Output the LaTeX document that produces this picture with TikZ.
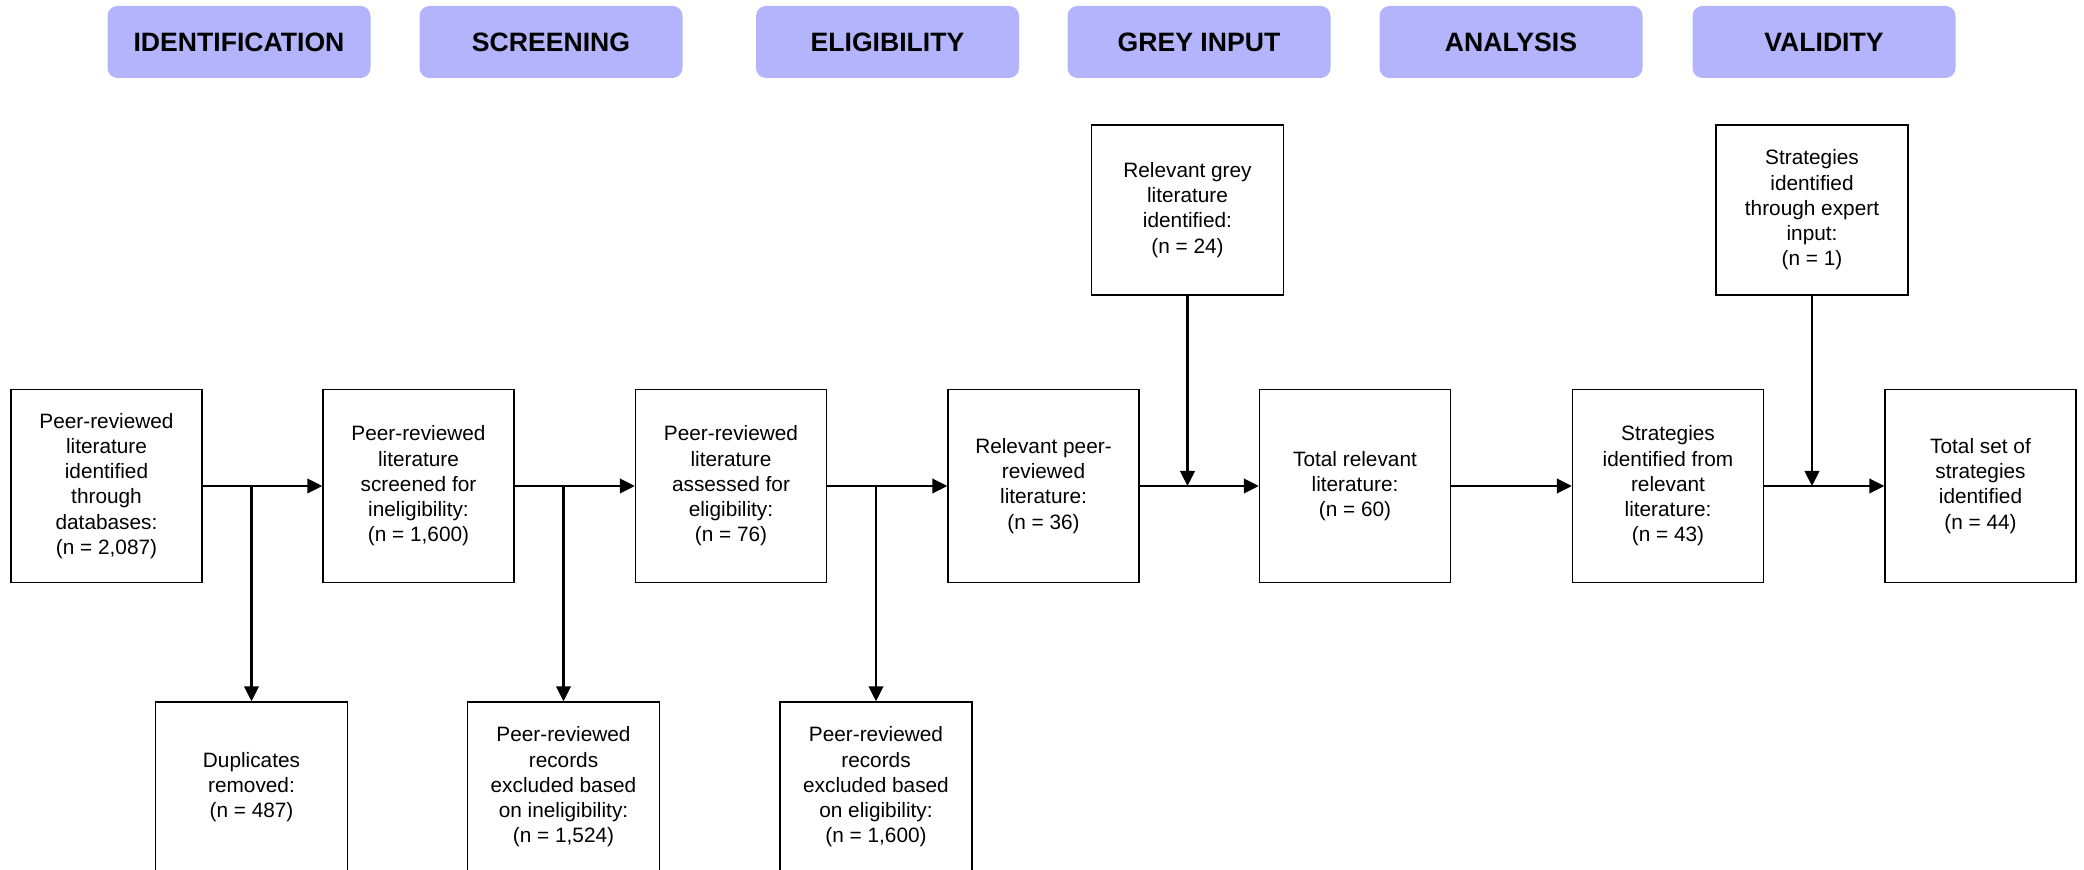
\documentclass[tikz,border=0pt]{standalone}
\usepackage{fontspec}
\setmainfont{Liberation Sans}
\usetikzlibrary{arrows.meta}
\definecolor{phase}{HTML}{B4B4FC}
\definecolor{ink}{HTML}{000000}

\begin{document}
\begin{tikzpicture}[x=.5pt,y=-.5pt,
  phasebox/.style={fill=phase,rounded corners=5pt,inner sep=0pt,minimum width=131.5pt,minimum height=36pt,font=\fontsize{13.3}{16}\selectfont\bfseries},
  stepbox/.style={draw=ink,line width=.7pt,fill=white,align=center,inner sep=0pt,minimum width=95.5pt,minimum height=96.5pt,font=\fontsize{10.4}{12.6}\selectfont},
  sidebox/.style={stepbox,minimum width=96pt,minimum height=85pt},
  link/.style={draw=ink,line width=1.1pt,-{Triangle[length=7.5pt,width=7.3pt]}}]
\useasboundingbox (0,0) rectangle (2084,870);
% phase headers
\node[phasebox] (hid) at (239,42){IDENTIFICATION};
\node[phasebox] (hsc) at (551,42){SCREENING};
\node[phasebox] (hel) at (887.5,42){ELIGIBILITY};
\node[phasebox] (hgr) at (1199,42){GREY INPUT};
\node[phasebox] (han) at (1511,42){ANALYSIS};
\node[phasebox] (hva) at (1824,42){VALIDITY};
% main flow
\node[stepbox] (db) at (106.5,486){Peer-reviewed\\literature\\identified\\through\\databases:\\(n = 2,087)};
\node[stepbox] (scr) at (418.5,486){Peer-reviewed\\literature\\screened for\\ineligibility:\\(n = 1,600)};
\node[stepbox] (ass) at (731,486){Peer-reviewed\\literature\\assessed for\\eligibility:\\(n = 76)};
\node[stepbox] (rel) at (1043.5,486){Relevant peer-\\reviewed\\literature:\\(n = 36)};
\node[stepbox] (tot) at (1355,486){Total relevant\\literature:\\(n = 60)};
\node[stepbox] (str) at (1668,486){Strategies\\identified from\\relevant\\literature:\\(n = 43)};
\node[stepbox] (fin) at (1980.5,486){Total set of\\strategies\\identified\\(n = 44)};
% inputs from above
\node[sidebox] (grey) at (1187.5,210){Relevant grey\\literature\\identified:\\(n = 24)};
\node[sidebox] (expert) at (1812,210){Strategies\\identified\\through expert\\input:\\(n = 1)};
% exclusions below
\node[sidebox] (dup) at (251.5,787){Duplicates\\removed:\\(n = 487)};
\node[sidebox] (exin) at (563.5,787){Peer-reviewed\\records\\excluded based\\on ineligibility:\\(n = 1,524)};
\node[sidebox] (exel) at (876,787){Peer-reviewed\\records\\excluded based\\on eligibility:\\(n = 1,600)};

\draw[link] (db)--(scr);
\draw[link] (scr)--(ass);
\draw[link] (ass)--(rel);
\draw[link] (rel)--(tot);
\draw[link] (tot)--(str);
\draw[link] (str)--(fin);
\draw[link] (dup |- db.east)--(dup);
\draw[link] (exin |- scr.east)--(exin);
\draw[link] (exel |- ass.east)--(exel);
\draw[link] (grey)--(grey |- rel.east);
\draw[link] (expert)--(expert |- str.east);
\end{tikzpicture}
\end{document}
